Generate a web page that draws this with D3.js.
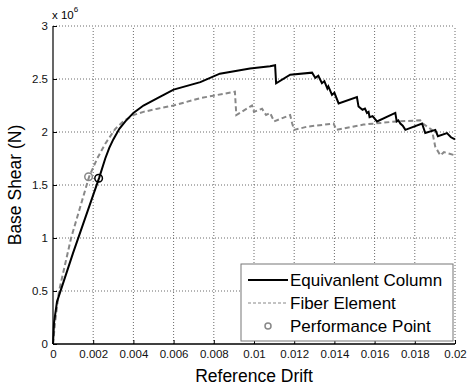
<!DOCTYPE html>
<html>
<head>
<meta charset="utf-8">
<script src="https://cdn.jsdelivr.net/npm/d3@7"></script>
<style>
  body { margin: 0; background: #fff; }
  svg { font-family: "Liberation Sans", Arial, sans-serif; }
</style>
</head>
<body>
<svg id="chart" width="467" height="388"></svg>
<script>
// 数据：横轴为参考位移角，纵轴为基底剪力 (x 10^6 N)
var equivDrift = [0, 0.00005, 0.0002, 0.001, 0.0023, 0.0026, 0.0028, 0.003, 0.0033, 0.0036, 0.004, 0.0045, 0.0052, 0.006, 0.00733, 0.0083, 0.0098, 0.0108, 0.01105,
    0.0111, 0.0118, 0.01289, 0.01305, 0.0132, 0.01338, 0.0135, 0.01365, 0.0137, 0.01388, 0.0140, 0.01421, 0.01512, 0.0152,
    0.0154, 0.01552, 0.01562, 0.0157, 0.01575, 0.0159, 0.01612, 0.01703, 0.0171, 0.01718, 0.01728, 0.0174, 0.01753, 0.01836,
    0.01852, 0.01902, 0.01915, 0.0196, 0.0198, 0.02]
var equivShear = [0, 0.2, 0.4, 0.86, 1.57, 1.75, 1.85, 1.93, 2.03, 2.1, 2.18, 2.25, 2.32, 2.40, 2.47, 2.55, 2.60, 2.62, 2.63,
    2.46, 2.54, 2.56, 2.51, 2.53, 2.46, 2.48, 2.41, 2.43, 2.35, 2.37, 2.27, 2.33, 2.24,
    2.21, 2.22, 2.18, 2.19, 2.14, 2.15, 2.10, 2.18, 2.10, 2.11, 2.08, 2.06, 2.02, 2.08,
    1.99, 2.02, 1.96, 1.99, 1.95, 1.93]

var fiberDrift = [0, 0.0001, 0.0003, 0.0009, 0.0018, 0.0022, 0.0026, 0.0031, 0.0035, 0.004, 0.0045, 0.0052, 0.006, 0.00733, 0.00905,
    0.00912, 0.0099, 0.01, 0.0104, 0.0106, 0.0108, 0.011, 0.0118, 0.0119, 0.012, 0.01264, 0.01396,
    0.0141, 0.01545, 0.01711, 0.01827, 0.0184, 0.01885, 0.01902, 0.01927, 0.01945, 0.02]
var fiberShear = [0, 0.2, 0.5, 1.0, 1.58, 1.75, 1.89, 2.03, 2.1, 2.16, 2.19, 2.22, 2.25, 2.32, 2.38,
    2.16, 2.25, 2.19, 2.22, 2.16, 2.18, 2.10, 2.16, 2.08, 2.02, 2.05, 2.08,
    2.02, 2.07, 2.10, 2.11, 2.08, 2.02, 1.86, 1.78, 1.81, 1.78]

var perfDrift = [0.00227, 0.00177]
var perfShear = [1.563, 1.578]

var xTicks = [0, 0.002, 0.004, 0.006, 0.008, 0.01, 0.012, 0.014, 0.016, 0.018, 0.02]
var xTickLabels = ["0", "0.002", "0.004", "0.006", "0.008", "0.01", "0.012", "0.014", "0.016", "0.018", "0.02"]
var yTicks = [0, 0.5, 1, 1.5, 2, 2.5, 3]
var yTickLabels = ["0", "0.5", "1", "1.5", "2", "2.5", "3"]

var legendNames = ["Equivanlent Column", "Fiber Element", "Performance Point"]

var margin = {top: 26, right: 12, bottom: 44, left: 53}
var svg = d3.select("#chart")
var W = 467, H = 388
var x = d3.scaleLinear().domain([0, 0.02]).range([margin.left, W - margin.right])
var y = d3.scaleLinear().domain([0, 3]).range([H - margin.bottom, margin.top])

// 网格线
var grid = svg.append("g").attr("class", "grid")
grid.selectAll(".gx").data(xTicks.slice(1)).enter().append("line")
    .attr("x1", d => x(d)).attr("x2", d => x(d))
    .attr("y1", y(0)).attr("y2", y(3))
    .attr("stroke", "#444").attr("stroke-width", 0.8).attr("stroke-dasharray", "1,2")
grid.selectAll(".gy").data(yTicks.slice(1)).enter().append("line")
    .attr("x1", x(0)).attr("x2", x(0.02))
    .attr("y1", d => y(d)).attr("y2", d => y(d))
    .attr("stroke", "#444").attr("stroke-width", 0.8).attr("stroke-dasharray", "1,2")

// 坐标轴
var xAxis = d3.axisBottom(x).tickValues(xTicks).tickSize(-4).tickPadding(6)
    .tickFormat((d, i) => xTickLabels[i])
var gx = svg.append("g").attr("transform", "translate(0," + y(0) + ")").call(xAxis)
gx.select(".domain").attr("stroke-width", 1.6).attr("d", "M" + x(0) + ",0H" + x(0.02))
gx.selectAll("text").attr("font-size", 11.5).attr("fill", "#111")

var yAxis = d3.axisLeft(y).tickValues(yTicks).tickSize(-4).tickPadding(5)
    .tickFormat((d, i) => yTickLabels[i])
var gy = svg.append("g").attr("transform", "translate(" + x(0) + ",0)").call(yAxis)
gy.select(".domain").attr("stroke-width", 1.2).attr("d", "M0," + y(0) + "V" + y(3))
gy.selectAll("text").attr("font-size", 11.5).attr("fill", "#111")

// 曲线
var line = d3.line().x(d => x(d[0])).y(d => y(d[1]))
svg.append("path")
    .datum(fiberDrift.map((d, i) => [d, fiberShear[i]]))
    .attr("d", line).attr("fill", "none")
    .attr("stroke", "#888").attr("stroke-width", 2).attr("stroke-dasharray", "5,3")
svg.append("path")
    .datum(equivDrift.map((d, i) => [d, equivShear[i]]))
    .attr("d", line).attr("fill", "none")
    .attr("stroke", "#000").attr("stroke-width", 2)

// 性能点
var perfColors = ["#000", "#888"]
svg.selectAll(".perf").data(perfDrift).enter().append("circle")
    .attr("cx", d => x(d)).attr("cy", (d, i) => y(perfShear[i]))
    .attr("r", 3.8).attr("fill", "none")
    .attr("stroke", (d, i) => perfColors[i]).attr("stroke-width", 1.5)

// 坐标轴标签
svg.append("text").attr("x", (x(0) + x(0.02)) / 2).attr("y", 382)
    .attr("text-anchor", "middle").attr("font-size", 17.5).text("Reference Drift")
svg.append("text").attr("transform", "translate(21," + (y(1.5)) + ") rotate(-90)")
    .attr("text-anchor", "middle").attr("font-size", 17.5).text("Base Shear (N)")
var expo = svg.append("text").attr("x", 52).attr("y", 19).attr("font-size", 11.5)
expo.append("tspan").text("x 10")
expo.append("tspan").attr("dy", -7).attr("font-size", 8).text("6")

// 图例
var lg = svg.append("g")
lg.append("rect").attr("x", 241).attr("y", 264).attr("width", 212).attr("height", 77)
    .attr("fill", "#fff").attr("stroke", "#777").attr("stroke-width", 1)
legendNames.forEach(function (name, i) {
    var ly = 280 + i * 23
    if (i === 0) {
        lg.append("line").attr("x1", 248).attr("x2", 288).attr("y1", ly).attr("y2", ly)
            .attr("stroke", "#000").attr("stroke-width", 2)
    } else if (i === 1) {
        lg.append("line").attr("x1", 248).attr("x2", 288).attr("y1", ly).attr("y2", ly)
            .attr("stroke", "#888").attr("stroke-width", 1.2).attr("stroke-dasharray", "3,2")
    } else {
        lg.append("circle").attr("cx", 268).attr("cy", ly).attr("r", 3)
            .attr("fill", "none").attr("stroke", "#888").attr("stroke-width", 1.5)
    }
    lg.append("text").attr("x", 290).attr("y", ly + 6).attr("font-size", 17).text(name)
})
</script>
</body>
</html>
